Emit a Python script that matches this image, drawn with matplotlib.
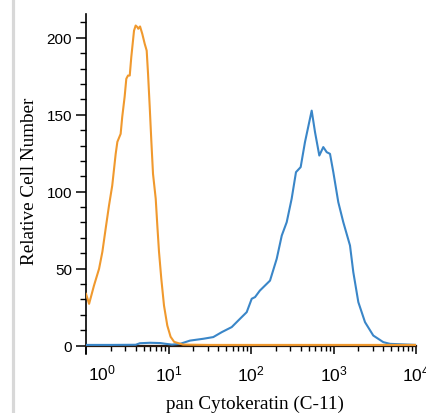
import matplotlib
matplotlib.use('Agg')
import matplotlib.pyplot as plt
from matplotlib.lines import Line2D
from matplotlib.ticker import LogLocator, FuncFormatter, MultipleLocator
import numpy as np

# isotype control (orange)
ctrl_x = [1.0, 1.09, 1.25, 1.44, 1.58, 1.73, 1.90, 2.08, 2.29, 2.40, 2.63, 2.75, 2.94,
          3.08, 3.23, 3.39, 3.54, 3.82, 4.00, 4.19, 4.30, 4.52, 4.81, 5.15, 5.44, 5.65,
          5.92, 6.19, 6.49, 7.0, 7.32, 7.67, 8.18, 8.82, 9.67, 10.6, 11.7, 15, 30, 100,
          1000, 10000]
ctrl_y = [33.6, 27.1, 39, 49.9, 61, 75.9, 91, 104, 124.6, 132.4, 137.6, 148.7, 161.7,
          173.4, 175.5, 175.5, 187.5, 204.7, 208, 207, 205.9, 207.4, 202.6, 196.1, 191.7,
          176.6, 155.2, 133.2, 111.6, 95.4, 78, 61, 43.4, 26, 13, 5.7, 2.4, 0.6, 0.4,
          0.4, 0.4, 0.4]

# pan Cytokeratin (C-11) stained (blue)
ck_x = [1.0, 2.0, 4.0, 4.5, 6.0, 8.0, 9.0, 11.0, 13.8, 18.2, 26.4, 34.9, 44.2, 58.4, 73.6,
        88.7, 102, 112, 128, 170, 205, 236, 271, 311, 351, 400, 451, 544, 597, 673,
        752, 827, 907, 995, 1143, 1314, 1585, 1738, 2000, 2410, 3035, 4016, 4842, 10000]
ck_y = [0.4, 0.4, 0.5, 1.5, 1.8, 1.6, 1.2, 0.6, 1.1, 3.2, 4.4, 5.5, 8.7, 12, 17.4,
        21.7, 30.4, 31.5, 35.7, 42.2, 56.4, 71.5, 80.2, 95.4, 112.7, 116, 132.2, 152.7, 138.7, 123.5,
        129, 125.7, 124.6, 112.7, 93.2, 80.2, 65, 47.7, 28.2, 15.2, 6.5, 2.2, 1.1, 0.4]

y_ticks = [0, 50, 100, 150, 200]

plt.rcParams['font.family'] = ['Liberation Sans', 'DejaVu Sans']
plt.rcParams['mathtext.fontset'] = 'custom'
plt.rcParams['mathtext.rm'] = 'Liberation Sans'
plt.rcParams['mathtext.it'] = 'Liberation Sans'

W, H = 426, 414
fig = plt.figure(figsize=(W / 100, H / 100), dpi=100)
ax = fig.add_axes([86 / W, (H - 355) / H, 330 / W, 340 / H])

ax.plot(ck_x, ck_y, color='#3a86c8', lw=1.5, zorder=3)
ax.plot(ctrl_x, ctrl_y, color='#f0992e', lw=1.5, zorder=3)

ax.set_xscale('log')
ax.set_xlim(1, 10000)
ax.set_ylim(-5.5, 215.5)

ax.spines['top'].set_visible(False)
ax.spines['right'].set_visible(False)
ax.spines['bottom'].set_position(('data', 0))
ax.spines['bottom'].set_linewidth(1.6)
ax.spines['bottom'].set_color('#2a1a10')
ax.spines['left'].set_linewidth(1.2)


def dec_label(v, pos):
    e = int(round(np.log10(v)))
    if e == 0:
        return ''  # drawn separately, a bit right of its tick
    return r'$\mathregular{10^{%d}}$' % e


ax.xaxis.set_major_locator(LogLocator(base=10, numticks=10))
ax.xaxis.set_minor_locator(LogLocator(base=10, subs=np.arange(2, 10), numticks=20))
ax.xaxis.set_major_formatter(FuncFormatter(dec_label))
ax.set_yticks(y_ticks)
ax.yaxis.set_minor_locator(MultipleLocator(10))

ax.tick_params(axis='x', which='major', direction='out', length=6, width=1.1,
               labelsize=12.5, pad=7)
ax.tick_params(axis='x', which='minor', direction='out', length=3.5, width=1)
ax.tick_params(axis='y', which='major', direction='out', length=7, width=1.1,
               labelsize=11, pad=3)
ax.tick_params(axis='y', which='minor', direction='out', length=4, width=1)

ax.annotate(r'$\mathregular{10^{0}}$', xy=(1, 0), xycoords='data',
            xytext=(16, -27), textcoords='offset pixels', ha='center', va='center',
            fontsize=12.5, annotation_clip=False)

fig.text(255 / W, (H - 404) / H, 'pan Cytokeratin (C-11)', ha='center', va='center',
         fontsize=13.8, family='Liberation Serif')
fig.text(30 / W, (H - 181) / H, 'Relative Cell Number', ha='center', va='center',
         rotation=90, fontsize=13.8, family='Liberation Serif')

fig.add_artist(Line2D([12.5 / W, 12.5 / W], [0, 1], transform=fig.transFigure,
                      color='#d8d8d8', lw=2.3))

fig.savefig('out.png', dpi=100)
